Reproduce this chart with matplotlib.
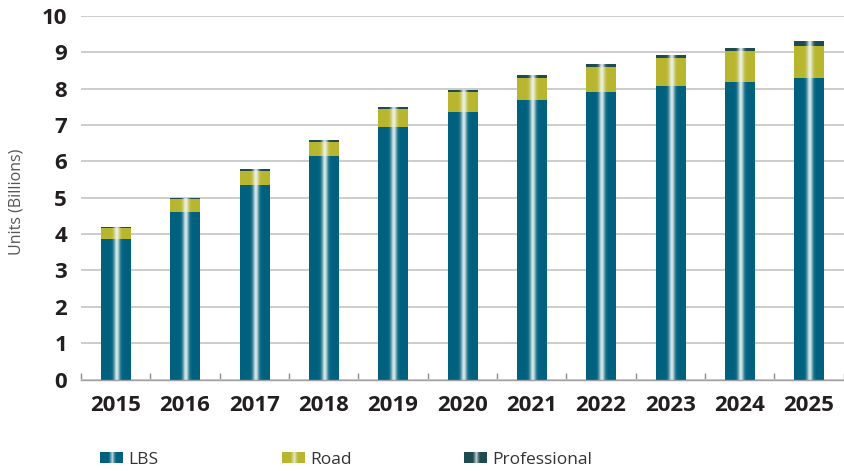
import numpy as np
import matplotlib
matplotlib.use("Agg")
import matplotlib.pyplot as plt
from matplotlib.patches import Rectangle
from matplotlib.legend_handler import HandlerBase
from matplotlib.colors import to_rgb

years = ["2015", "2016", "2017", "2018", "2019", "2020",
         "2021", "2022", "2023", "2024", "2025"]
lbs = [3.87, 4.62, 5.35, 6.14, 6.95, 7.37, 7.68, 7.91, 8.08, 8.19, 8.29]
road = [0.29, 0.34, 0.39, 0.40, 0.49, 0.54, 0.61, 0.69, 0.76, 0.86, 0.88]
professional = [0.02, 0.02, 0.03, 0.05, 0.03, 0.04, 0.07, 0.07, 0.08, 0.07, 0.12]
y_ticks = list(range(0, 11))

series_names = ["LBS", "Road", "Professional"]
series_colors = ["#00617f", "#b8b62f", "#1f4a4f"]

plt.rcParams['font.family'] = ['Open Sans', 'DejaVu Sans']


def shade(base, n=80, peak=0.9, sigma=0.1):
    """Column colours for a cylinder-like bar: base colour with a bright centre stripe."""
    t = np.linspace(0, 1, n)
    w = peak * np.exp(-((t - 0.53) / sigma) ** 2)
    rgb = np.array(to_rgb(base))
    light = np.array([0.94, 0.97, 0.96])
    return rgb[None, :] * (1 - w[:, None]) + light[None, :] * w[:, None]


class ShadedHandler(HandlerBase):
    def __init__(self, color):
        super().__init__()
        self.color = color

    def create_artists(self, legend, orig_handle, xdescent, ydescent,
                       width, height, fontsize, trans):
        cols = shade(self.color, 30, peak=0.75, sigma=0.09)
        n = len(cols)
        arts = []
        for i, c in enumerate(cols):
            arts.append(Rectangle((-xdescent + width * i / n, -ydescent),
                                  width / n * 1.05, height, facecolor=c,
                                  edgecolor='none', transform=trans))
        return arts


fig = plt.figure(figsize=(8.44, 4.71), dpi=100)
ax = fig.add_axes([81 / 844, 1 - 379.5 / 471, (843.6 - 81) / 844, (379.5 - 16) / 471])

x = np.arange(len(years))
width = 0.42
lbs_a = np.array(lbs)
road_a = np.array(road)
prof_a = np.array(professional)

containers = []
bottoms = [np.zeros(len(x)), lbs_a, lbs_a + road_a]
for vals, bot, col in zip([lbs_a, road_a, prof_a], bottoms, series_colors):
    bc = ax.bar(x, vals, width, bottom=bot, color=col, zorder=2, linewidth=0)
    containers.append(bc)
    grad = shade(col)[None, :, :]
    for p in bc.patches:
        x0, y0 = p.get_x(), p.get_y()
        ax.imshow(grad, extent=[x0, x0 + p.get_width(), y0, y0 + p.get_height()],
                  aspect='auto', interpolation='bilinear', zorder=2.5)

ax.set_xlim(-0.5, len(years) - 0.5)
ax.set_ylim(0, 10)
ax.set_yticks(y_ticks)
ax.set_xticks(x)
ax.set_xticklabels(years)
ax.set_xticks(np.arange(-0.5, len(years), 1), minor=True)

for lab in ax.get_xticklabels() + ax.get_yticklabels():
    lab.set_fontweight('bold')
    lab.set_fontsize(16)
    lab.set_color('#231f20')

ax.tick_params(axis='y', length=0, pad=10)
ax.tick_params(axis='x', which='major', length=0, pad=11)
ax.tick_params(axis='x', which='minor', direction='in', length=5,
               width=1, color='#8c8c8c')

for s in ['top', 'right', 'left']:
    ax.spines[s].set_visible(False)
ax.spines['bottom'].set_color('#a0a0a0')
ax.spines['bottom'].set_linewidth(1.0)
ax.spines['bottom'].set_zorder(3)

ax.yaxis.grid(True, color='#cccccc', linewidth=1.4)
ax.set_axisbelow(True)

fig.text(17 / 844, 1 - 202 / 471, "Units (Billions)", rotation=90,
         ha='center', va='center', fontsize=11.5, color='#555555')

legend_x = [100, 282, 464]
for bc, name, col, lx in zip(containers, series_names, series_colors, legend_x):
    fig.legend(handles=[bc], labels=[name], loc='center left',
               bbox_to_anchor=(lx / 844, 1 - 460 / 471), frameon=False,
               borderpad=0, borderaxespad=0, handlelength=1.35,
               handleheight=0.6, handletextpad=0.3, fontsize=12.5,
               labelcolor='#333333', handler_map={bc: ShadedHandler(col)})

fig.savefig("out.png", dpi=100)
